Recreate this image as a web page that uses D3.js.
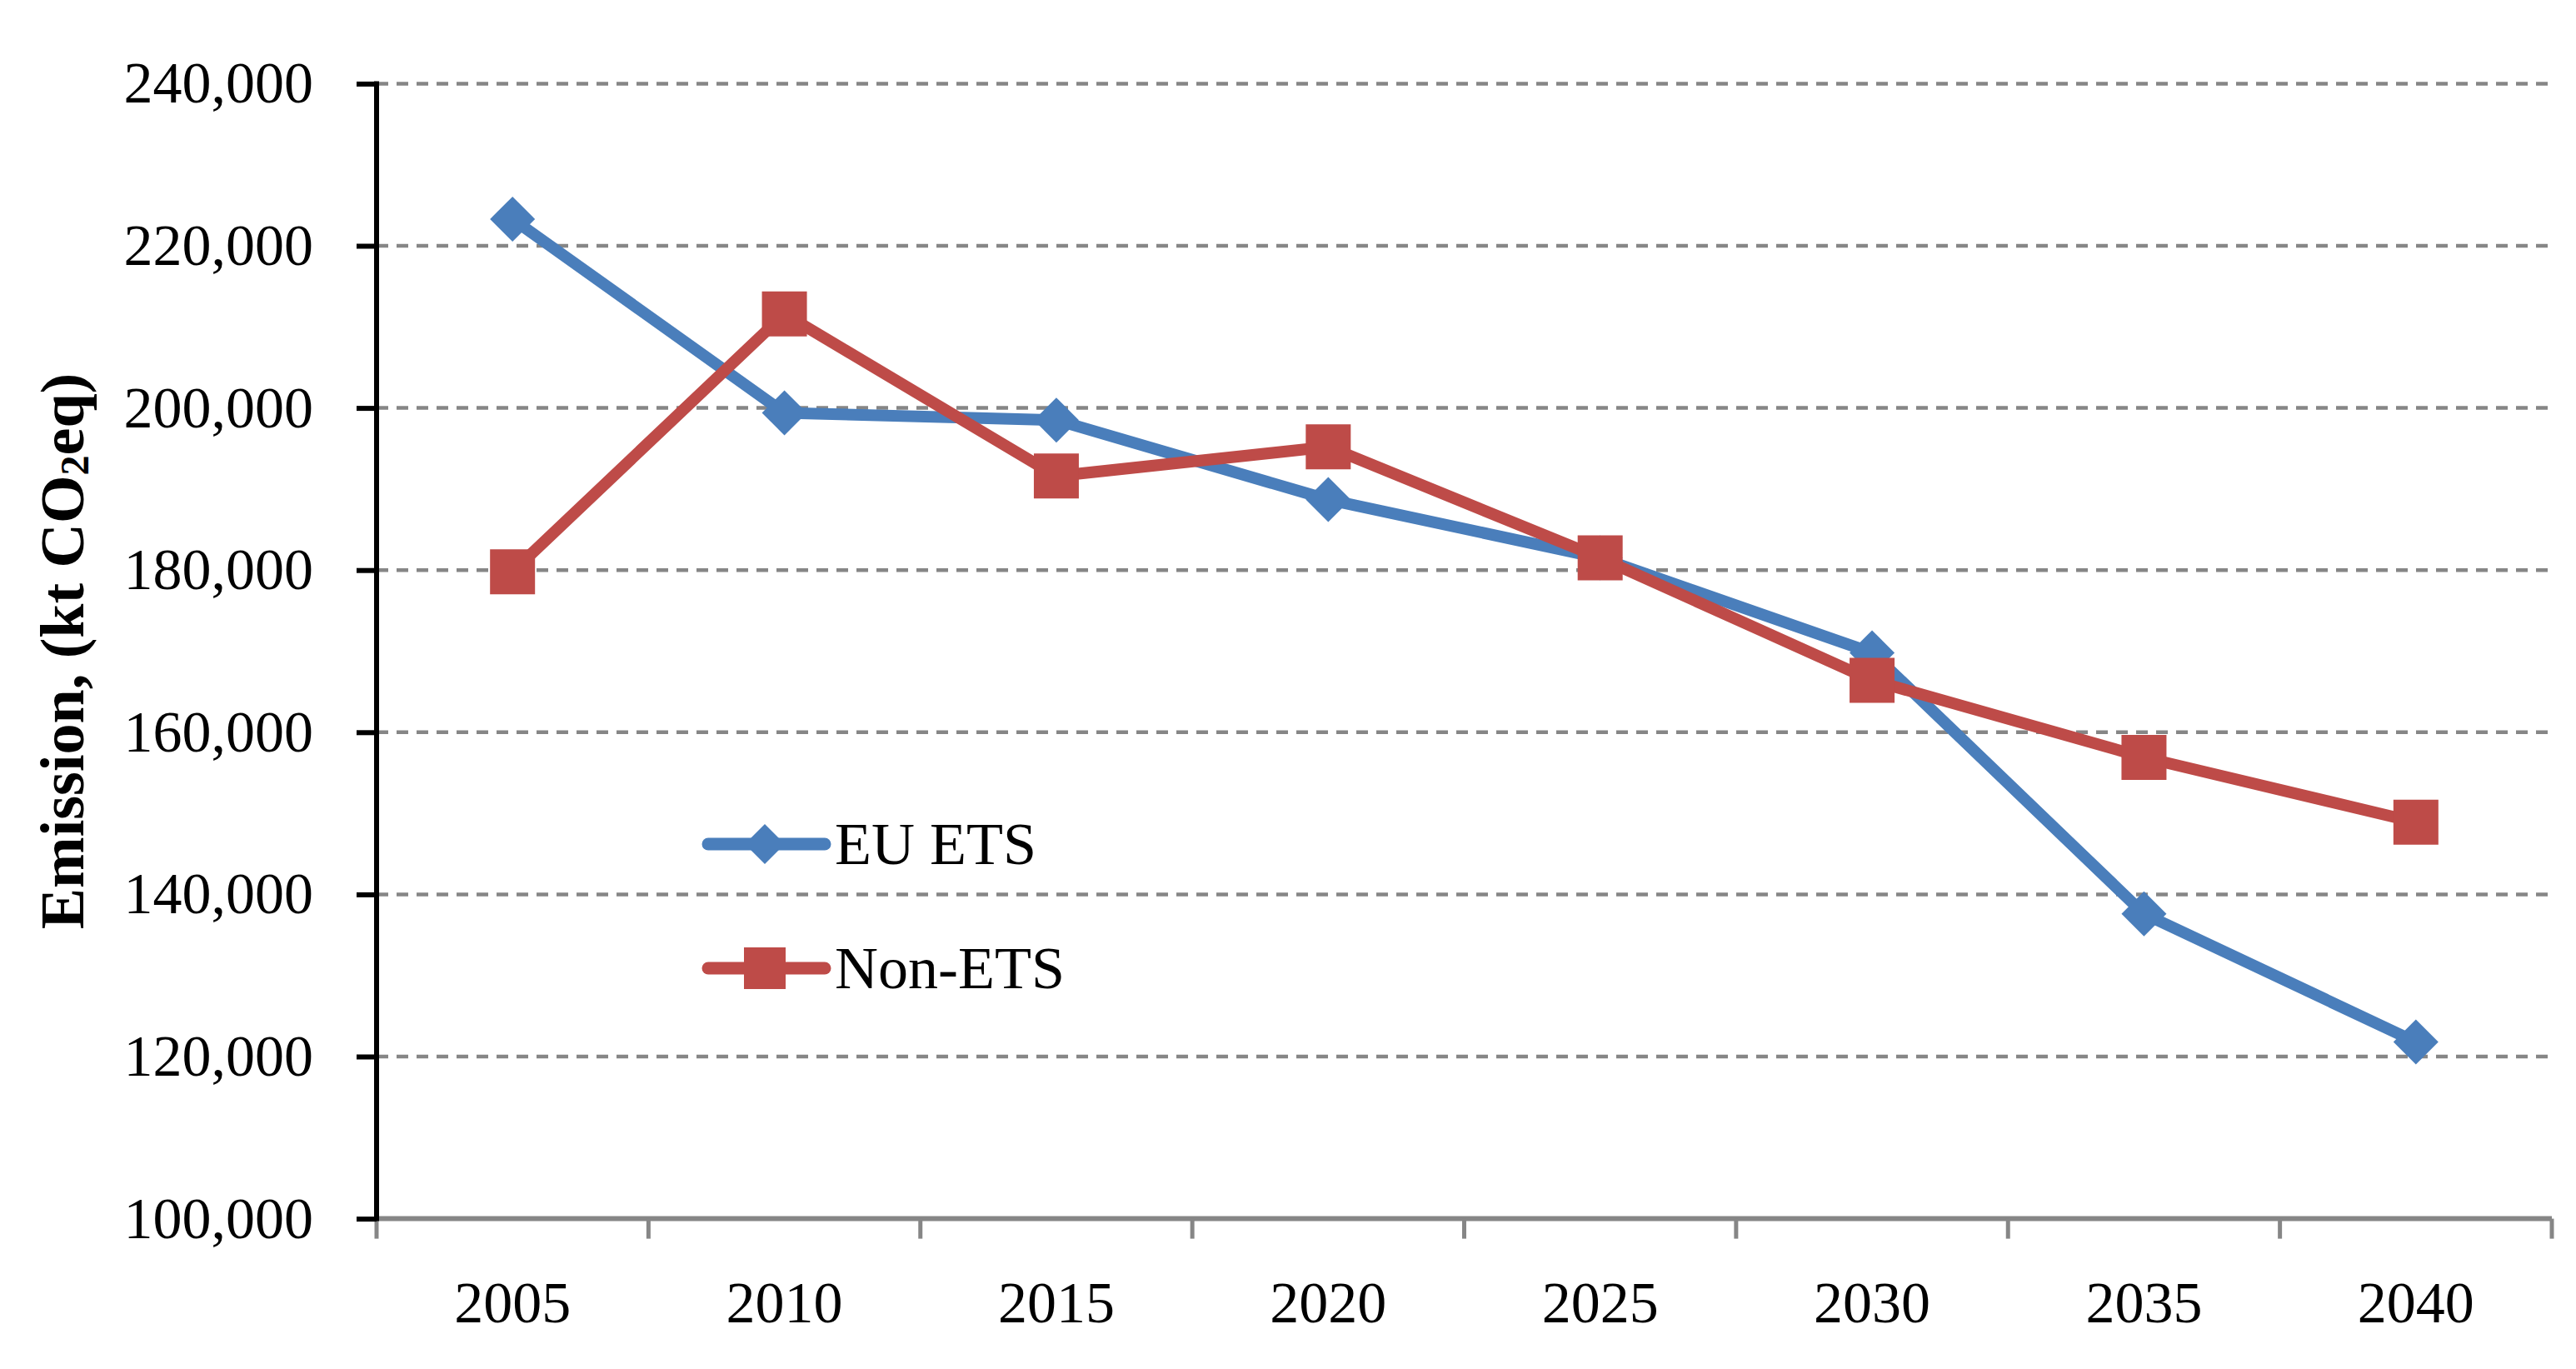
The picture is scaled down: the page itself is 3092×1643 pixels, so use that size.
<!DOCTYPE html>
<html>
<head>
<meta charset="utf-8">
<script src="https://cdn.jsdelivr.net/npm/d3@7"></script>
<style>
  html, body { margin: 0; padding: 0; background: #fff; }
  svg { display: block; }
  text { font-family: "Palatino Linotype", "Book Antiqua", Palatino, "Liberation Serif", serif; fill: #000; }
</style>
</head>
<body>
<svg id="chart" width="3092" height="1643"></svg>
<script>
const years = ["2005", "2010", "2015", "2020", "2025", "2030", "2035", "2040"];
const euEts = [223300, 199400, 198500, 188700, 181500, 169800, 137600, 121800];
const nonEts = [179800, 211600, 191600, 195200, 181500, 166400, 156900, 148900];
const yTicks = [100000, 120000, 140000, 160000, 180000, 200000, 220000, 240000];
const seriesNames = ["EU ETS", "Non-ETS"];

const svg = d3.select("#chart");
const plotL = 452, plotR = 3063, plotT = 100.4, plotB = 1462.6;

const x = d3.scaleBand().domain(years).range([plotL, plotR]).padding(0);
const y = d3.scaleLinear().domain([100000, 240000]).range([plotB, plotT]);
const fmt = d3.format(",");
const cx = d => x(d) + x.bandwidth() / 2;

// gridlines
svg.append("g").selectAll("line").data(yTicks.filter(t => t > 100000)).join("line")
  .attr("x1", plotL).attr("x2", plotR)
  .attr("y1", d => y(d)).attr("y2", d => y(d))
  .attr("stroke", "#868686").attr("stroke-width", 4.5)
  .attr("stroke-dasharray", "14,10");

// x axis (gray)
const xAxis = svg.append("g").attr("transform", `translate(0,${plotB})`);
xAxis.append("line").attr("x1", plotL).attr("x2", plotR).attr("y1", 0).attr("y2", 0)
  .attr("stroke", "#868686").attr("stroke-width", 6);
const bounds = years.map(d => x(d)).concat([plotR]);
xAxis.selectAll("line.tick").data(bounds).join("line").attr("class", "tick")
  .attr("x1", d => d).attr("x2", d => d).attr("y1", 0).attr("y2", 24)
  .attr("stroke", "#868686").attr("stroke-width", 5);
xAxis.selectAll("text").data(years).join("text")
  .attr("x", d => cx(d)).attr("y", 101)
  .attr("text-anchor", "middle").attr("dominant-baseline", "central")
  .attr("font-size", 70).text(d => d);

// y axis (black) via d3 axis
const yAxisG = svg.append("g").attr("transform", `translate(${plotL},0)`)
  .call(d3.axisLeft(y).tickValues(yTicks).tickFormat(fmt).tickSize(24).tickPadding(52));
yAxisG.select(".domain").attr("stroke", "#000").attr("stroke-width", 6)
  .attr("d", `M0,${plotT - 3}V${plotB + 3}`);
yAxisG.selectAll(".tick line").attr("stroke", "#000").attr("stroke-width", 6);
yAxisG.selectAll(".tick text").attr("font-size", 70)
  .attr("font-family", "\"Palatino Linotype\", \"Book Antiqua\", Palatino, \"Liberation Serif\", serif")
  .attr("fill", "#000");

// y axis title
const title = svg.append("text")
  .attr("transform", `translate(75,${(plotT + plotB) / 2}) rotate(-90)`)
  .attr("text-anchor", "middle").attr("dominant-baseline", "central")
  .attr("font-size", 74).attr("font-weight", "bold");
title.append("tspan").text("Emission, (kt CO");
title.append("tspan").attr("font-size", 48).attr("dy", 14).text("2");
title.append("tspan").attr("dy", -14).text("eq)");

const colors = ["#4A7EBB", "#BE4B48"];
const data = [euEts, nonEts];
const line = d3.line().x((d, i) => cx(years[i])).y(d => y(d));

const diamond = s => `M0,${-s}L${s},0L0,${s}L${-s},0Z`;
const square = s => `M${-s},${-s}H${s}V${s}H${-s}Z`;
const shapes = [diamond(27), square(27)];

data.forEach((vals, k) => {
  const g = svg.append("g");
  g.append("path").attr("d", line(vals)).attr("fill", "none")
    .attr("stroke", colors[k]).attr("stroke-width", 14).attr("stroke-linejoin", "round");
  g.selectAll("path.m").data(vals).join("path").attr("class", "m")
    .attr("transform", (d, i) => `translate(${cx(years[i])},${y(d)})`)
    .attr("d", shapes[k]).attr("fill", colors[k]);
});

// legend
const legY = [1013, 1162];
seriesNames.forEach((name, k) => {
  const g = svg.append("g").attr("transform", `translate(0,${legY[k]})`);
  g.append("line").attr("x1", 850).attr("x2", 990).attr("y1", 0).attr("y2", 0)
    .attr("stroke", colors[k]).attr("stroke-width", 15).attr("stroke-linecap", "round");
  g.append("path").attr("transform", "translate(918,0)").attr("d", k === 0 ? diamond(24) : square(25))
    .attr("fill", colors[k]);
  g.append("text").attr("x", 1002).attr("y", 0).attr("dominant-baseline", "central")
    .attr("font-size", 72).text(name);
});
</script>
</body>
</html>
